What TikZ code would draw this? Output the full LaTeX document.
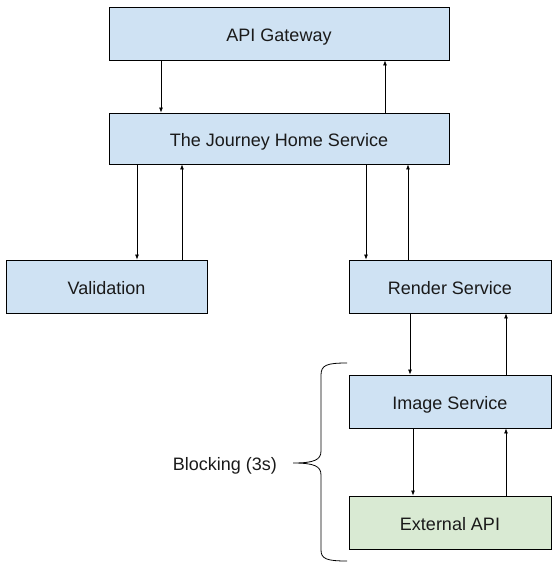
\documentclass[tikz,border=0pt]{standalone}
\usepackage{fontspec}
\setmainfont{Liberation Sans}
\usetikzlibrary{arrows.meta}
\definecolor{azzurro}{HTML}{CFE2F3}
\definecolor{verdino}{HTML}{D9EAD3}
\definecolor{testo}{HTML}{1A1A1A}
\tikzset{
  scatola/.style={draw=black, line width=0.9pt, fill=azzurro, inner sep=0pt,
    minimum width=202pt, minimum height=53pt, text=testo,
    text height=15.9pt, text depth=0pt,
    font=\fontsize{18}{20}\selectfont},
  larga/.style={scatola, minimum width=340pt},
  freccia/.style={-{Latex[length=5pt,width=4pt]}, line width=0.7pt}
}
\begin{document}
\begin{tikzpicture}[x=1pt,y=-1pt]
        \useasboundingbox (0,0) rectangle (559,567);

        % Disegna i servizi
        \node[larga] (gw) at (279,33.5) {API Gateway};
        \node[larga, minimum height=51pt] (jh) at (279,138.5) {The Journey Home Service};
        \node[scatola, minimum width=201pt] (val) at (106.5,286.5) {Validation};
        \node[scatola] (ren) at (450,286.5) {Render Service};
        \node[scatola] (img) at (450,401.5) {Image Service};
        \node[scatola, fill=verdino] (ext) at (450,522.5) {External API};

        % Disegna le frecce di andata e ritorno
        \foreach \a/\b/\xd/\xu in {gw/jh/161/385, jh/val/137/182, jh/ren/366/408, ren/img/410/506, img/ext/413/506} {
          \draw[freccia] (\a.south -| \xd,0) -- (\b.north -| \xd,0);
          \draw[freccia] (\b.north -| \xu,0) -- (\a.south -| \xu,0);
        }

        % Disegna la parentesi graffa
        \draw[line width=0.8pt] (347,363) .. controls (327,363) and (321,365) .. (321,375) -- (321,451)
          .. controls (321,460) and (314,463) .. (293,463)
          .. controls (314,463) and (321,466) .. (321,475) -- (321,550)
          .. controls (321,559) and (327,561) .. (347,561);
        \node[anchor=base east, inner sep=0pt, text=testo, font=\fontsize{18}{20}\selectfont] (blocco) at (277,470) {Blocking (3s)};

        \end{tikzpicture}
\end{document}
